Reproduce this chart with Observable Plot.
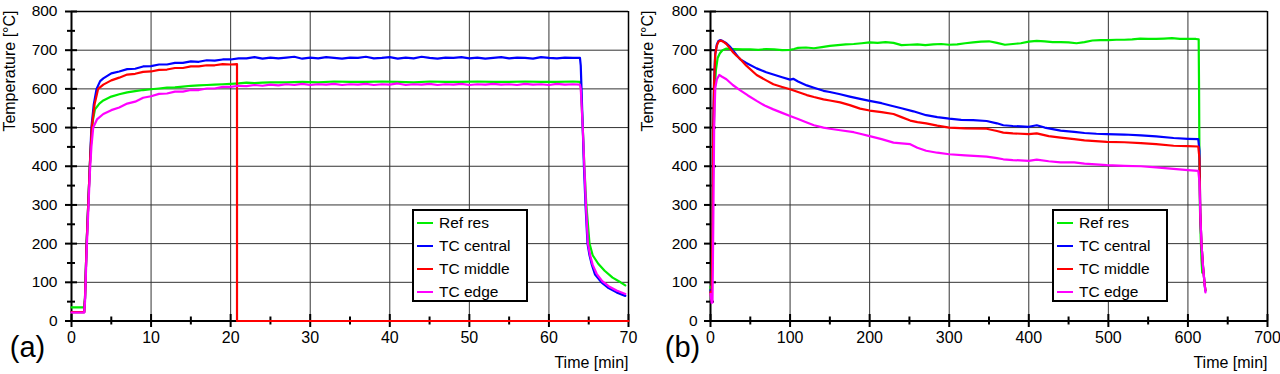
<!DOCTYPE html>
<html>
<head>
<meta charset="utf-8">
<script src="https://cdn.jsdelivr.net/npm/d3@7"></script>
<script src="https://cdn.jsdelivr.net/npm/@observablehq/plot@0.6"></script>
<style>
  html, body { margin: 0; padding: 0; background: #fff; }
  #wrap { display: flex; width: 1280px; height: 374px; }
  .panel { position: relative; width: 640px; height: 374px; }
  .legend { position: absolute; left: 412px; top: 209px; width: 112px; height: 89px;
            border: 2px solid #000; background: #fff; font-family: "Liberation Sans", Arial, sans-serif;
            font-size: 15.5px; color: #000; }
  .row { display: flex; align-items: center; height: 23px; }
  .sw { width: 16px; height: 2px; margin-left: 3px; margin-right: 6px; }
</style>
</head>
<body>
<div id="wrap"></div>
<script>
// ---------- data ----------
const seriesNames = ["Ref res", "TC central", "TC middle", "TC edge"];
const seriesColors = ["#00ee00", "#0000ff", "#ff0000", "#ff00ff"];

// Panel (a): time [min], temperature [°C]
const aRefRes = [[0,35],[1.6,35],[1.7,60],[1.9,200],[2.1,300],[2.3,400],[2.5,480],[2.7,520],[2.95,547],[3.5,562],[4,570],[5,580],[6,586],[7,591],[8,594],[9,597],[10,599],[11,601],[12,603],[13,604],[14,606],[15,608],[16,609],[17,610],[18,611],[19,612],[20,613],[21,614],[22,616],[23,615],[24,616],[25,617],[27,617],[29,618],[31,617],[33,619],[35,618],[37,618],[39,619],[41,618],[43,617],[45,619],[47,618],[49,618],[51,619],[53,618],[55,618],[57,619],[59,618],[61,618],[63,619],[63.9,618],[64.0,610],[64.25,500],[64.45,400],[64.7,300],[65.1,200],[65.5,170],[66.2,148],[67,130],[68,112],[69,100],[69.6,92]];
const aCentral = [[0,23],[1.6,23],[1.7,60],[1.9,200],[2.1,300],[2.3,400],[2.5,500],[2.8,560],[3.15,600],[3.6,620],[4,627],[5,640],[6,645],[7,651],[8,652],[9,658],[10,659],[11,663],[12,663],[13,667],[14,667],[15,671],[16,670],[17,674],[18,673],[19,676],[20,676],[21,679],[22,679],[23,682],[24,678],[25,681],[26,679],[27,681],[28,683],[29,678],[30,681],[31,679],[32,682],[33,680],[34,678],[35,681],[36,680],[37,683],[38,679],[39,680],[40,682],[41,678],[42,681],[43,679],[44,683],[45,680],[46,678],[47,681],[48,680],[49,682],[50,679],[51,681],[52,678],[53,680],[54,682],[55,679],[56,681],[57,680],[58,678],[59,682],[60,680],[61,679],[62,681],[63,680],[63.9,680],[64.0,660],[64.25,500],[64.4,400],[64.6,300],[64.85,200],[65.1,170],[65.4,145],[65.8,120],[66.6,100],[67.5,85],[68.5,74],[69.6,65]];
const aMiddle = [[0,23],[1.6,23],[1.7,60],[1.9,200],[2.1,300],[2.3,400],[2.55,500],[2.9,560],[3.35,600],[4,611],[5,622],[6,629],[7,637],[8,639],[9,644],[10,645],[11,649],[12,650],[13,654],[14,654],[15,658],[16,658],[17,661],[18,661],[19,664],[20,663],[20.8,664],[20.8,0],[70,0]];
const aEdge = [[0,22],[1.6,22],[1.7,50],[1.9,180],[2.1,280],[2.3,380],[2.5,450],[2.73,500],[3.2,521],[4,535],[5,545],[6,552],[7,562],[8,567],[9,577],[10,581],[11,587],[12,588],[13,593],[14,593],[15,597],[16,597],[17,601],[18,601],[19,605],[20,605],[21,608],[22,607],[23,610],[24,608],[25,611],[26,609],[27,612],[28,610],[29,613],[30,610],[31,612],[32,611],[33,613],[34,610],[35,612],[36,611],[37,613],[38,610],[39,612],[40,611],[41,614],[42,610],[43,612],[44,611],[45,613],[46,610],[47,612],[48,611],[49,613],[50,610],[51,612],[52,611],[53,613],[54,611],[55,612],[56,610],[57,613],[58,611],[59,612],[60,610],[61,613],[62,611],[63,612],[63.9,611],[64.0,600],[64.25,500],[64.45,400],[64.65,300],[64.9,200],[65.2,168],[65.5,145],[66,122],[66.7,103],[67.5,90],[68.5,79],[69.6,70]];

// Panel (b): time [min], temperature [°C]
const bRefRes = [[0,88],[1.5,62],[2.5,300],[4.2,500],[5.5,600],[6.7,647],[9,680],[11.8,692],[15,700],[20,704],[30,703],[40,702],[50,702],[60,701],[70,703],[80,702],[90,700],[100,701],[105,703],[110,706],[120,707],[130,705],[140,708],[150,711],[160,713],[170,715],[180,716],[190,718],[200,720],[210,719],[220,721],[230,719],[240,713],[250,714],[260,715],[270,713],[280,715],[290,716],[300,714],[310,715],[320,718],[330,720],[340,722],[350,723],[360,719],[370,714],[380,716],[390,718],[400,722],[410,724],[420,723],[430,721],[440,721],[450,720],[460,718],[470,721],[480,725],[490,726],[500,726],[510,727],[520,727],[530,728],[540,730],[550,729],[560,729],[570,730],[580,731],[590,729],[600,729],[610,729],[613.5,728],[614,600],[614.5,400],[615,300],[616,220],[617,160],[618,125]];
const bCentral = [[0,80],[1.5,60],[2.5,250],[3.4,500],[4.5,620],[5.9,690],[8,715],[10,724],[12,726],[15,724],[20,718],[25,708],[30,695],[37,677],[45,667],[58,653],[70,643],[79,637],[90,630],[100,624],[104,626],[110,619],[121,609],[130,603],[142,595],[150,592],[163,586],[175,580],[188,574],[200,569],[215,563],[226,557],[240,550],[255,542],[271,532],[285,527],[300,523],[315,520],[330,519],[347,517],[360,511],[368,506],[380,504],[390,503],[400,502],[410,506],[420,500],[440,492],[457,489],[470,486],[485,484],[498,483],[520,482],[541,480],[560,477],[582,473],[600,471],[613,470],[614.5,440],[615.5,280],[617,200],[619,140],[621,95],[622,78]];
const bMiddle = [[0,75],[1.5,55],[2.5,240],[3.5,500],[4.6,620],[6,690],[8,712],[10,722],[13,725],[16,722],[20,716],[24,706],[28.6,694],[33,685],[37,678],[45,660],[58,636],[70,622],[79,612],[90,605],[100,599],[110,592],[121,584],[130,579],[142,573],[150,570],[163,565],[175,558],[188,549],[200,544],[215,540],[230,535],[240,527],[251,518],[260,514],[271,511],[285,505],[300,500],[320,498],[347,497],[360,491],[368,487],[380,485],[400,483],[410,485],[425,478],[440,474],[457,470],[470,467],[498,463],[520,462],[541,460],[560,457],[582,453],[600,452],[613,451],[614.5,420],[615.5,280],[617,200],[619,140],[621,95],[622,80]];
const bEdge = [[0,70],[1.5,47],[2.5,48],[3.5,250],[4.6,500],[6,603],[8,625],[11,636],[14,632],[20,625],[28,610],[37,597],[47,583],[58,569],[68,557],[79,547],[90,538],[100,530],[110,522],[121,513],[130,506],[142,500],[150,497],[163,493],[180,488],[188,484],[200,478],[215,470],[230,461],[240,459],[251,457],[260,448],[271,440],[285,435],[300,431],[320,428],[347,425],[360,421],[368,418],[380,416],[400,414],[410,417],[425,413],[440,410],[457,410],[470,407],[498,403],[520,401],[541,400],[560,397],[582,393],[600,390],[613,388],[614.5,360],[615.5,280],[617,200],[619,140],[621,95],[622,74]];

const aXMajor = [0,10,20,30,40,50,60,70];
const aXMinor = [5,15,25,35,45,55,65];
const bXMajor = [0,100,200,300,400,500,600,700];
const bXMinor = [50,150,250,350,450,550,650];
const yMajor = [0,100,200,300,400,500,600,700,800];
const yMinor = [50,150,250,350,450,550,650,750];

// ---------- drawing ----------
function panel({series, xMax, xMajor, xMinor, tag, tagDx, ylabDx, mLeft, mRight, ypad}) {
  const marks = [
    Plot.gridX(xMajor, {stroke: "#333", strokeOpacity: 1, strokeWidth: 1}),
    Plot.gridY(yMajor, {stroke: "#333", strokeOpacity: 1, strokeWidth: 1}),
    Plot.ruleY([800], {stroke: "#000", strokeWidth: 1.5}),
    Plot.ruleX([xMax], {stroke: "#000", strokeWidth: 1.5}),
    Plot.ruleX([0], {stroke: "#000", strokeWidth: 2}),
    Plot.ruleY([0], {stroke: "#000", strokeWidth: 2}),
    Plot.ruleX(xMajor, {x: d => d, y1: () => 0, y2: () => 0, insetTop: -6.5, insetBottom: -6.5, stroke: "#000", strokeWidth: 2}),
    Plot.ruleX(xMinor, {x: d => d, y1: () => 0, y2: () => 0, insetTop: -4, insetBottom: -4, stroke: "#000", strokeWidth: 2}),
    Plot.ruleY(yMajor, {y: d => d, x1: () => 0, x2: () => 0, insetLeft: -6, insetRight: -6, stroke: "#000", strokeWidth: 2}),
    Plot.ruleY(yMinor, {y: d => d, x1: () => 0, x2: () => 0, insetLeft: -4, insetRight: -4, stroke: "#000", strokeWidth: 2}),
    Plot.axisX(xMajor, {tickSize: 0, tickPadding: 11, fontSize: 16, label: null}),
    Plot.axisY(yMajor, {tickSize: 0, tickPadding: ypad, fontSize: 15.5, label: null}),
  ];
  series.forEach((s, i) => {
    marks.push(Plot.line(s, {x: d => d[0], y: d => d[1], stroke: seriesColors[i], strokeWidth: 2.2}));
  });
  marks.push(
    Plot.text([tag], {text: d => d, frameAnchor: "bottom-left", dx: tagDx, dy: 27, fontSize: 29, textAnchor: "middle", lineAnchor: "middle"}),
    Plot.text(["Time [min]"], {text: d => d, frameAnchor: "bottom-right", dy: 41.5, fontSize: 16, textAnchor: "end", lineAnchor: "middle"}),
    Plot.text(["Temperature [°C]"], {text: d => d, frameAnchor: "top-left", dx: ylabDx, dy: -1, rotate: -90, fontSize: 16, textAnchor: "end", lineAnchor: "middle"})
  );
  return Plot.plot({
    width: 640, height: 374,
    marginLeft: mLeft, marginRight: mRight, marginTop: 11, marginBottom: 53.5,
    x: {domain: [0, xMax]},
    y: {domain: [0, 800]},
    style: {fontFamily: "'Liberation Sans', Arial, sans-serif", fontSize: "15px", background: "#fff", color: "#000", overflow: "visible"},
    marks
  });
}

function legend() {
  const box = document.createElement("div");
  box.className = "legend";
  seriesNames.forEach((n, i) => {
    const row = document.createElement("div");
    row.className = "row";
    const sw = document.createElement("span");
    sw.className = "sw";
    sw.style.background = seriesColors[i];
    const tx = document.createElement("span");
    tx.textContent = n;
    row.appendChild(sw); row.appendChild(tx);
    box.appendChild(row);
  });
  return box;
}

const wrap = document.getElementById("wrap");
const pA = document.createElement("div"); pA.className = "panel";
pA.appendChild(panel({series: [aRefRes, aCentral, aMiddle, aEdge], xMax: 70, xMajor: aXMajor, xMinor: aXMinor, tag: "(a)", tagDx: -44, ylabDx: -62, mLeft: 71, mRight: 12, ypad: 14}));
pA.appendChild(legend());
const pB = document.createElement("div"); pB.className = "panel";
pB.appendChild(panel({series: [bRefRes, bCentral, bMiddle, bEdge], xMax: 700, xMajor: bXMajor, xMinor: bXMinor, tag: "(b)", tagDx: -28, ylabDx: -63, mLeft: 70, mRight: 13, ypad: 13}));
pB.appendChild(legend());
wrap.appendChild(pA); wrap.appendChild(pB);
</script>
</body>
</html>
